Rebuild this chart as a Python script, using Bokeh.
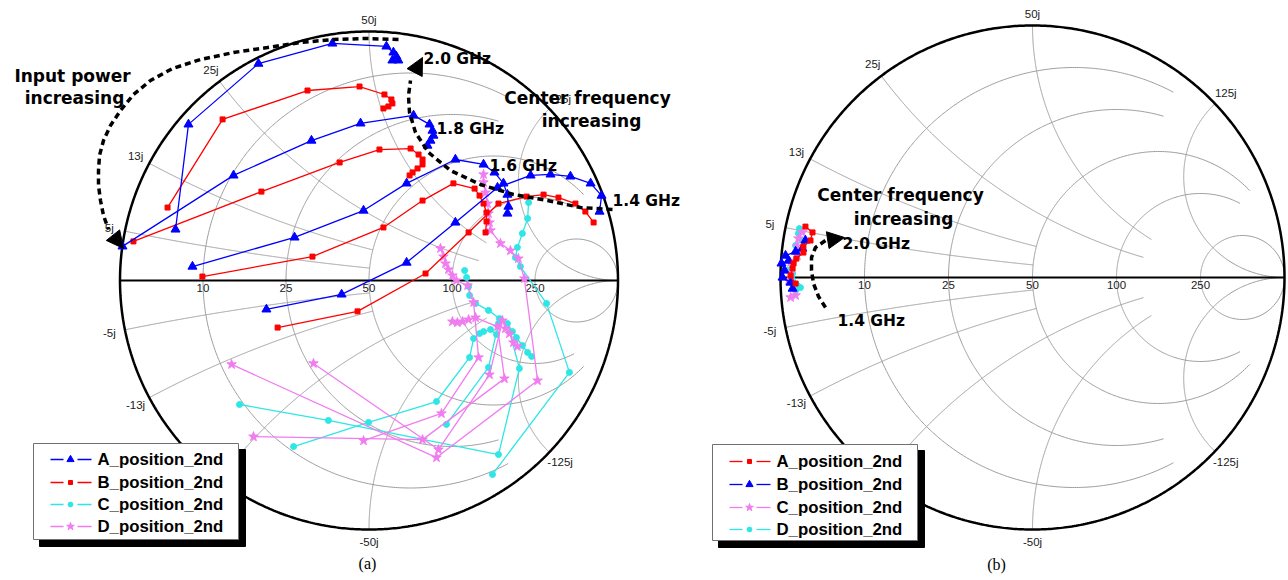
import numpy as np
from bokeh.plotting import figure
from bokeh.models import Range1d, Arrow, NormalHead
from bokeh.core.properties import value
from bokeh.embed import file_html
from bokeh.resources import INLINE

# ---------------- data ----------------
# Smith chart grid (50 ohm reference): normalised resistance circles / reactance arcs
R_VALUES = [0.2, 0.5, 1.0, 2.0, 5.0]
R_LABELS = ["10", "25", "50", "100", "250"]
X_VALUES = [0.1, 0.25, 0.5, 1.0, 2.5]
X_LABELS = ["5j", "13j", "25j", "50j", "125j"]

# (a) reflection coefficient trajectories (real / imag), input power sweep per centre frequency
# A_position_2nd : 2.0, 1.8, 1.6, 1.4 GHz
A_A_RE = [[-0.777, -0.725, -0.444, -0.147, 0.070, 0.098, 0.110, 0.094, 0.118],
          [-0.990, -0.544, -0.231, -0.034, 0.179, 0.243, 0.255, 0.259, 0.247, 0.235],
          [-0.709, -0.299, -0.022, 0.151, 0.347, 0.460, 0.504, 0.540, 0.556, 0.560, 0.556],
          [-0.412, -0.110, 0.151, 0.347, 0.516, 0.649, 0.729, 0.809, 0.890, 0.934, 0.926]]
A_A_IM = [[0.205, 0.627, 0.871, 0.952, 0.940, 0.916, 0.900, 0.884, 0.884],
          [0.137, 0.422, 0.562, 0.631, 0.663, 0.627, 0.602, 0.582, 0.562, 0.542],
          [0.056, 0.173, 0.281, 0.390, 0.486, 0.466, 0.434, 0.390, 0.345, 0.297, 0.269],
          [-0.116, -0.056, 0.072, 0.233, 0.373, 0.422, 0.426, 0.418, 0.390, 0.341, 0.277]]
# B_position_2nd
A_B_RE = [[-0.809, -0.588, -0.247, -0.038, 0.062, 0.090, 0.094, 0.078, 0.058],
          [-0.946, -0.432, -0.118, 0.042, 0.167, 0.199, 0.215, 0.215, 0.195, 0.175, 0.163],
          [-0.669, -0.227, 0.058, 0.215, 0.339, 0.424, 0.444, 0.460, 0.472, 0.472, 0.468],
          [-0.367, -0.046, 0.227, 0.400, 0.520, 0.633, 0.701, 0.761, 0.829, 0.869, 0.902]]
A_B_IM = [[0.293, 0.647, 0.763, 0.779, 0.747, 0.727, 0.711, 0.699, 0.691],
          [0.157, 0.357, 0.474, 0.526, 0.530, 0.506, 0.486, 0.466, 0.450, 0.434, 0.422],
          [0.016, 0.096, 0.213, 0.321, 0.390, 0.369, 0.341, 0.309, 0.273, 0.237, 0.193],
          [-0.189, -0.124, 0.028, 0.193, 0.309, 0.337, 0.345, 0.333, 0.309, 0.277, 0.233]]
# C_position_2nd
A_C_RE = [[-0.520, -0.163, 0.520, 0.604, 0.556, 0.576, 0.592, 0.616, 0.637, 0.653],
          [-0.303, -0.002, 0.271, 0.404, 0.420, 0.444, 0.460, 0.488, 0.512],
          [0.311, 0.480, 0.520, 0.524, 0.480, 0.428, 0.404, 0.400, 0.392, 0.384],
          [0.496, 0.805, 0.713, 0.608, 0.588, 0.596, 0.616, 0.637, 0.641]]
A_C_IM = [[-0.498, -0.562, -0.699, -0.353, -0.173, -0.205, -0.229, -0.261, -0.289, -0.305],
          [-0.667, -0.570, -0.486, -0.309, -0.233, -0.213, -0.205, -0.197, -0.217],
          [-0.578, -0.349, -0.173, -0.153, -0.120, -0.092, -0.060, -0.024, 0.012, 0.040],
          [-0.779, -0.369, -0.092, 0.056, 0.092, 0.133, 0.189, 0.249, 0.313]]
# D_position_2nd
A_D_RE = [[-0.552, 0.271, 0.677, 0.624, 0.600, 0.568, 0.528, 0.488, 0.484, 0.480, 0.476, 0.468, 0.460, 0.460],
          [-0.223, 0.279, 0.484, 0.536, 0.548, 0.564, 0.580, 0.596],
          [-0.464, 0.215, 0.544, 0.516, 0.428, 0.400, 0.376, 0.355, 0.335],
          [-0.022, 0.291, 0.440, 0.420, 0.396, 0.351, 0.335, 0.319, 0.307, 0.299, 0.287]]
A_D_IM = [[-0.337, -0.711, -0.402, 0.008, 0.088, 0.120, 0.149, 0.201, 0.233, 0.269, 0.309, 0.353, 0.394, 0.426],
          [-0.333, -0.679, -0.378, -0.161, -0.193, -0.213, -0.249, -0.265],
          [-0.627, -0.639, -0.394, -0.185, -0.149, -0.157, -0.165, -0.169, -0.165],
          [-0.643, -0.534, -0.309, -0.088, -0.020, 0.000, 0.020, 0.044, 0.068, 0.096, 0.129]]

# (b) reflection coefficient, centre frequency sweep 1.4 -> 2.0 GHz
B_A_RE = [-0.940, -0.960, -0.952, -0.948, -0.937, -0.909, -0.909, -0.881, -0.873, -0.901]
B_A_IM = [-0.024, 0.008, 0.036, 0.056, 0.075, 0.099, 0.123, 0.147, 0.179, 0.202]
B_B_RE = [-0.952, -0.960, -0.992, -0.984, -0.996, -0.968, -0.980, -0.940, -0.913, -0.901]
B_B_IM = [-0.044, -0.020, 0.000, 0.028, 0.056, 0.067, 0.087, 0.103, 0.115, 0.147]
B_C_RE = [-0.960, -0.940, -0.968, -0.960, -0.960, -0.933, -0.933, -0.929, -0.913]
B_C_IM = [-0.079, -0.071, -0.012, 0.016, 0.060, 0.087, 0.123, 0.155, 0.179]
B_D_RE = [-0.940, -0.921, -0.933, -0.952, -0.972, -0.952, -0.933, -0.940, -0.913, -0.929, -0.925]
B_D_IM = [-0.052, -0.040, -0.032, 0.016, 0.028, 0.060, 0.107, 0.127, 0.147, 0.175, 0.194]

SERIES_NAMES = ["A_position_2nd", "B_position_2nd", "C_position_2nd", "D_position_2nd"]

# ---------------- layout ----------------
S = 249.0                      # px per unit reflection coefficient (chart a)
W, H = 1288, 580
REF_A = (368.5, 280.0)         # page position of chart (a) centre


def pg(px, py):
    return (px - REF_A[0]) / S, (REF_A[1] - py) / S


p = figure(width=W, height=H,
           x_range=Range1d((0 - REF_A[0]) / S, (W - REF_A[0]) / S),
           y_range=Range1d((REF_A[1] - H) / S, REF_A[1] / S),
           output_backend="svg", toolbar_location=None, min_border=0,
           x_axis_location=None, y_axis_location=None)
p.grid.visible = False
p.outline_line_color = None
p.background_fill_color = "white"

SANS = value("Liberation Sans")
BOLD = value("DejaVu Sans")

R_XMAX = [2, 2, 5, 5, np.inf]
X_RMAX = [1, 1, 2.5, 2.5, np.inf]


def z2g(r, x):
    z = np.asarray(r) + 1j * np.asarray(x)
    g = (z - 1) / (z + 1)
    return g.real, g.imag


def draw_smith(ox, oy, k):
    xs, ys = [], []
    for r, xm in zip(R_VALUES, R_XMAX):
        um = np.pi / 2 - 1e-5 if np.isinf(xm) else np.arctan(xm)
        u = np.linspace(-um, um, 500)
        gr, gi = z2g(np.full_like(u, r), np.tan(u))
        if np.isinf(xm):
            gr = np.concatenate([[1.0], gr, [1.0]])
            gi = np.concatenate([[0.0], gi, [0.0]])
        xs.append(ox + k * gr)
        ys.append(oy + k * gi)
    for xv, rm in zip(X_VALUES, X_RMAX):
        tm = np.pi / 2 - 1e-5 if np.isinf(rm) else np.arctan(rm)
        t = np.linspace(0, tm, 500)
        for sgn in (1, -1):
            gr, gi = z2g(np.tan(t), np.full_like(t, sgn * xv))
            if np.isinf(rm):
                gr = np.concatenate([gr, [1.0]])
                gi = np.concatenate([gi, [0.0]])
            xs.append(ox + k * gr)
            ys.append(oy + k * gi)
    p.multi_line(xs=xs, ys=ys, line_color="#9c9c9c", line_width=1)
    th = np.linspace(0, 2 * np.pi, 721)
    p.line(ox + k * np.cos(th), oy + k * np.sin(th), line_color="black", line_width=2.5)
    p.line([ox - k, ox + k], [oy, oy], line_color="black", line_width=2)
    # resistance labels
    lx = [ox + k * (r - 1) / (r + 1) for r in R_VALUES]
    p.text(x=lx, y=[oy - 7.5 / S] * len(lx), text=R_LABELS, text_font=SANS,
           text_font_size="11.5px", text_color="#1a1a1a", text_align="center",
           text_baseline="middle")
    # reactance labels on the rim
    tx, ty, tt = [], [], []
    for xv, lab in zip(X_VALUES, X_LABELS):
        for sgn in (1, -1):
            if sgn < 0 and lab == "25j":
                continue          # hidden under the legend box
            gr, gi = z2g(0.0, sgn * xv)
            ang = np.arctan2(gi, gr)
            d = (12 + 4 * abs(np.cos(ang))) / S
            tx.append(ox + k * gr + d * np.cos(ang))
            ty.append(oy + k * gi + d * np.sin(ang))
            tt.append(lab if sgn > 0 else "-" + lab)
    p.text(x=tx, y=ty, text=tt, text_font=SANS, text_font_size="11.5px",
           text_color="#1a1a1a", text_align="center", text_baseline="middle")


def draw_series(ox, oy, k, re, im, color, marker, size):
    if isinstance(re[0], list):
        xs = [ox + k * np.array(r) for r in re]
        ys = [oy + k * np.array(i) for i in im]
    else:
        xs = [ox + k * np.array(re)]
        ys = [oy + k * np.array(im)]
    p.multi_line(xs=xs, ys=ys, line_color=color, line_width=1.3)
    p.scatter(np.concatenate(xs), np.concatenate(ys), marker=marker, size=size,
              fill_color=color, line_color=color)


BLUE, RED, CYAN, PINK = "#0000ff", "#ff0000", "#2ee6e6", "#f07cf0"
STY_TRI = (BLUE, "triangle", 9)
STY_SQ = (RED, "square", 5)
STY_DOT = (CYAN, "circle", 6)
STY_STAR = (PINK, "star", 10)

# ---------- chart (a) ----------
OXA, OYA, KA = 0.0, 0.0, 1.0
draw_smith(OXA, OYA, KA)
draw_series(OXA, OYA, KA, A_C_RE, A_C_IM, *STY_DOT)
draw_series(OXA, OYA, KA, A_D_RE, A_D_IM, *STY_STAR)
draw_series(OXA, OYA, KA, A_B_RE, A_B_IM, *STY_SQ)
draw_series(OXA, OYA, KA, A_A_RE, A_A_IM, *STY_TRI)

# ---------- chart (b) ----------
OXB, OYB = pg(1032, 277)
KB = 252.0 / S
draw_smith(OXB, OYB, KB)
draw_series(OXB, OYB, KB, B_D_RE, B_D_IM, *STY_DOT)
draw_series(OXB, OYB, KB, B_C_RE, B_C_IM, *STY_STAR)
draw_series(OXB, OYB, KB, B_B_RE, B_B_IM, *STY_TRI)
draw_series(OXB, OYB, KB, B_A_RE, B_A_IM, *STY_SQ)


# ---------- annotations ----------
def dashed_arrow(pts, tip):
    xy = [pg(*q) for q in pts]
    p.line([q[0] for q in xy], [q[1] for q in xy], line_color="black",
           line_width=3.5, line_dash="6 4")
    s = xy[-1]
    e = pg(*tip)
    p.add_layout(Arrow(end=NormalHead(size=17, fill_color="black", line_color="black"),
                       x_start=s[0], y_start=s[1], x_end=e[0], y_end=e[1],
                       line_alpha=0))


dashed_arrow([(398, 39), (365, 38), (333, 39), (300, 42), (267, 47), (233, 52), (200, 59),
              (172, 68), (150, 80), (133, 94), (120, 110), (110, 125), (103, 140),
              (99, 155), (98, 170), (98, 185), (100, 200), (103, 215), (108, 229)],
             (123, 248))
dashed_arrow([(612, 209), (580, 207), (547, 200), (513, 194), (480, 184), (450, 170),
              (428, 152), (415, 132), (409, 112), (408, 95), (410, 80)], (422, 57))
dashed_arrow([(825, 307), (818, 296), (813, 283), (811, 270), (811, 257), (815, 247),
              (825, 240)], (844, 237))


def label(px, py, txt, size, align="left", font=BOLD, style="bold", color="black",
          baseline="alphabetic"):
    x, y = pg(px, py)
    p.text(x=[x], y=[y], text=[txt], text_font=font, text_font_style=style,
           text_font_size=size, text_align=align, text_baseline=baseline,
           text_color=color)


BIG, MID = "17px", "15.5px"
label(72, 75, "Input power", BIG, "center")
label(74, 97, "increasing", BIG, "center")
label(587, 97, "Center frequency", BIG, "center")
label(591, 120, "increasing", BIG, "center")
label(423, 58, "2.0 GHz", MID)
label(436, 128, "1.8 GHz", MID)
label(489, 165, "1.6 GHz", MID)
label(612, 200, "1.4 GHz", MID)
label(900, 194, "Center frequency", BIG, "center")
label(903, 218, "increasing", BIG, "center")
label(842, 243, "2.0 GHz", MID)
label(837, 320, "1.4 GHz", MID)
label(367, 563, "(a)", "16px", "center", value("Liberation Serif"), "normal", baseline="middle")
label(996, 564, "(b)", "16px", "center", value("Liberation Serif"), "normal", baseline="middle")


# ---------- legends ----------
def draw_legend(x0, y0, row_y, styles):
    # shadow + box
    l, t = pg(x0, y0)
    r, b = pg(x0 + 205, y0 + 96)
    sl, st = pg(x0 + 6, y0 + 6)
    sr, sb = pg(x0 + 212, y0 + 103)
    p.quad(left=[sl], right=[sr], top=[st], bottom=[sb], fill_color="black",
           line_color="black")
    p.quad(left=[l], right=[r], top=[t], bottom=[b], fill_color="white",
           line_color="#707070", line_width=1)
    for i, (name, sty) in enumerate(zip(SERIES_NAMES, styles)):
        color, marker, size = sty
        yy = y0 + row_y[i]
        a1, yv = pg(x0 + 17, yy)
        a2, _ = pg(x0 + 30, yy)
        a3, _ = pg(x0 + 44, yy)
        a4, _ = pg(x0 + 58, yy)
        mx, _ = pg(x0 + 37, yy)
        p.multi_line(xs=[[a1, a2], [a3, a4]], ys=[[yv, yv], [yv, yv]],
                     line_color=color, line_width=1.3)
        p.scatter([mx], [yv], marker=marker, size=size * 0.8, fill_color=color,
                  line_color=color)
        tx, _ = pg(x0 + 64, yy)
        p.text(x=[tx], y=[yv], text=[name], text_font=SANS, text_font_style="bold",
               text_font_size="16.8px", text_color="black", text_align="left",
               text_baseline="middle")


draw_legend(33, 443, [16, 39, 61, 83], [STY_TRI, STY_SQ, STY_DOT, STY_STAR])
draw_legend(712, 444, [17, 40, 63, 85], [STY_SQ, STY_TRI, STY_STAR, STY_DOT])

open("out.html", "w").write(file_html(p, INLINE))
